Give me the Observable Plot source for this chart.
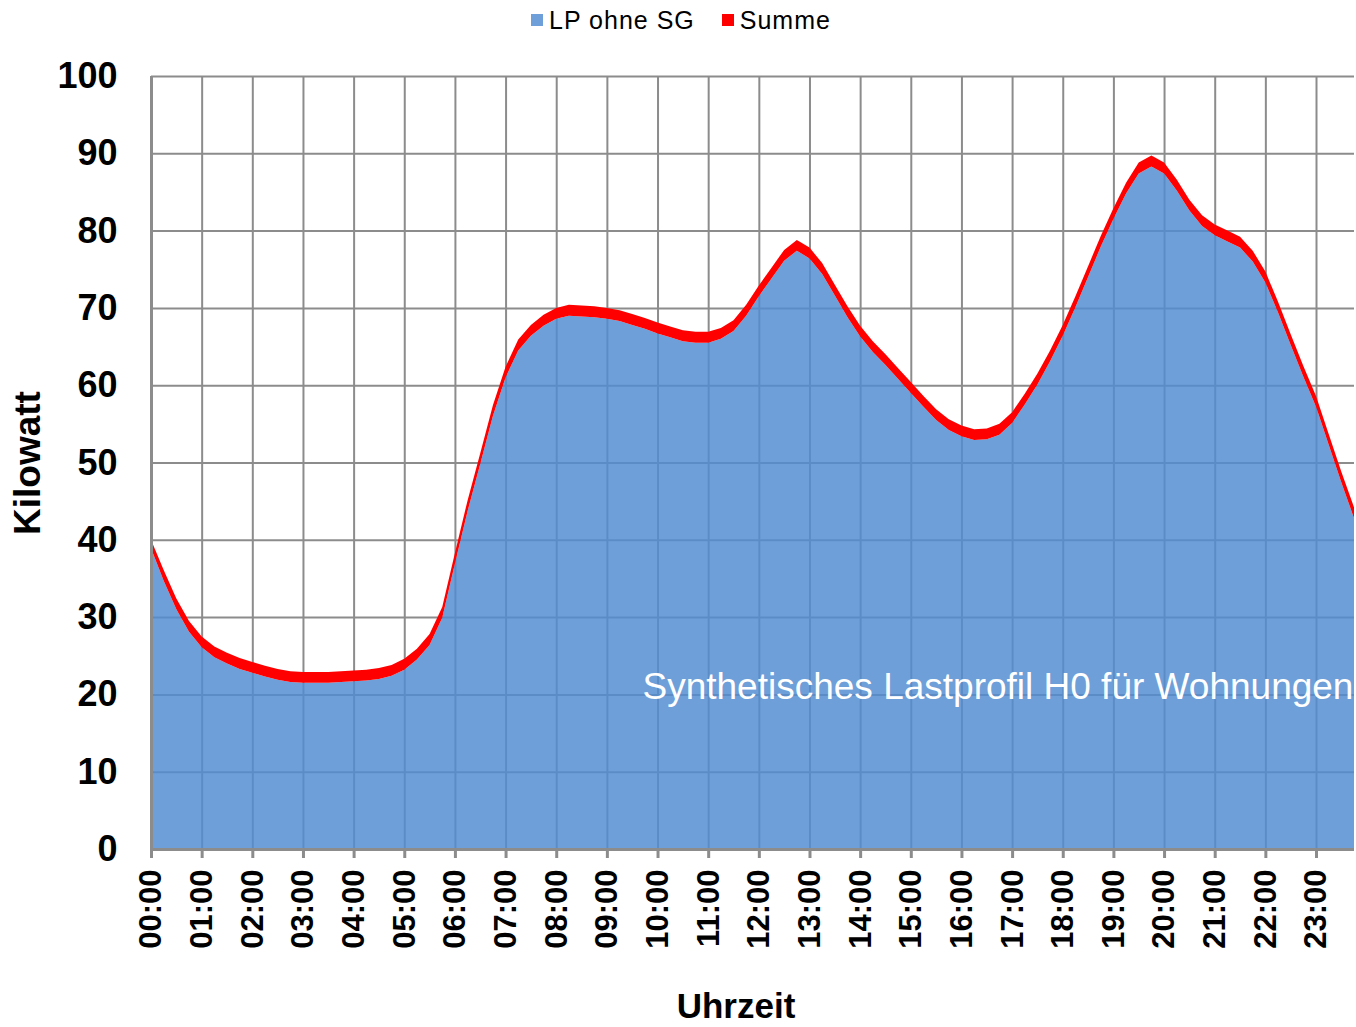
<!DOCTYPE html>
<html>
<head>
<meta charset="utf-8">
<script src="https://cdn.jsdelivr.net/npm/d3@7"></script>
<script src="https://cdn.jsdelivr.net/npm/@observablehq/plot@0.6"></script>
<style>
  html, body { margin: 0; padding: 0; background: #fff; }
  #wrap { position: relative; width: 1356px; height: 1027px; overflow: hidden; font-family: "Liberation Sans", Arial, sans-serif; }
  #legend { position: absolute; left: 531px; top: 0; height: 40px; display: flex; align-items: center; font-size: 25px; letter-spacing: 1px; color: #000; white-space: nowrap; }
  #legend .sw { display: inline-block; width: 12px; height: 12px; margin-right: 6px; }
  #legend .item { display: flex; align-items: center; margin-right: 27px; }
  #chart { position: absolute; left: 0; top: 40px; }
</style>
</head>
<body>
<div id="wrap">
  <div id="legend"></div>
  <div id="chart"></div>
</div>
<script>
// Series names
const seriesNames = ["LP ohne SG", "Summe"];
const seriesColors = ["rgb(110,159,217)", "#ff0000"];

// Hour tick labels
const tickLabels = ["00:00","01:00","02:00","03:00","04:00","05:00","06:00","07:00","08:00","09:00","10:00","11:00",
                    "12:00","13:00","14:00","15:00","16:00","17:00","18:00","19:00","20:00","21:00","22:00","23:00"];
const yTicks = [0, 10, 20, 30, 40, 50, 60, 70, 80, 90, 100];

// Quarter-hour values (kW), 00:00 ... 23:45
const lpOhneSG = [
  38.9, 34.7, 31.0, 28.1, 26.1, 24.8, 24.0, 23.3, 22.8, 22.3, 21.9, 21.6, 21.5, 21.5, 21.5, 21.6,
  21.7, 21.8, 22.0, 22.4, 23.2, 24.5, 26.4, 29.9, 36.9, 43.7, 49.8, 56.0, 61.0, 64.5, 66.4, 67.7,
  68.6, 69.0, 68.9, 68.8, 68.6, 68.3, 67.8, 67.3, 66.7, 66.2, 65.7, 65.5, 65.5, 66.0, 67.0, 69.0,
  71.5, 73.8, 76.1, 77.4, 76.4, 74.4, 71.6, 68.8, 66.3, 64.3, 62.6, 60.8, 59.0, 57.2, 55.5, 54.2,
  53.4, 52.9, 53.0, 53.6, 55.1, 57.5, 60.1, 63.1, 66.4, 70.1, 74.0, 77.9, 81.5, 84.8, 87.4, 88.3,
  87.4, 85.2, 82.6, 80.6, 79.4, 78.6, 77.8, 76.0, 73.3, 69.4, 65.2, 61.1, 57.2, 52.3, 47.4, 42.8
];
const summe = [
  40.0, 36.1, 32.4, 29.5, 27.5, 26.2, 25.4, 24.7, 24.2, 23.7, 23.3, 23.0, 22.9, 22.9, 22.9, 23.0,
  23.1, 23.2, 23.4, 23.8, 24.6, 25.9, 27.8, 31.3, 38.3, 45.1, 51.2, 57.4, 62.4, 65.9, 67.8, 69.1,
  70.0, 70.4, 70.3, 70.2, 70.0, 69.7, 69.2, 68.7, 68.1, 67.6, 67.1, 66.9, 66.9, 67.4, 68.4, 70.4,
  72.9, 75.2, 77.5, 78.8, 77.8, 75.8, 73.0, 70.2, 67.7, 65.7, 64.0, 62.2, 60.4, 58.6, 56.9, 55.6,
  54.8, 54.3, 54.4, 55.0, 56.5, 58.9, 61.5, 64.5, 67.8, 71.5, 75.4, 79.3, 82.9, 86.2, 88.8, 89.7,
  88.8, 86.6, 84.0, 82.0, 80.8, 80.0, 79.2, 77.4, 74.7, 70.8, 66.6, 62.5, 58.6, 53.7, 48.8, 44.2
];

const annotation = "Synthetisches Lastprofil H0 für Wohnungen";
const yLabel = "Kilowatt";
const xLabel = "Uhrzeit";

// Build table: x position in hours (quarter-hour steps)
const data = summe.map((s, i) => ({t: i / 4, lp: lpOhneSG[i], summe: s}));
const hourTicks = tickLabels.map((_, i) => i);

// Legend
const legend = document.getElementById("legend");
seriesNames.forEach((name, i) => {
  const item = document.createElement("div");
  item.className = "item";
  const sw = document.createElement("span");
  sw.className = "sw";
  sw.style.background = seriesColors[i];
  const tx = document.createElement("span");
  tx.textContent = name;
  item.appendChild(sw); item.appendChild(tx);
  legend.appendChild(item);
});

const grid = "#8c8c8c";
const font = "Liberation Sans, Arial, sans-serif";

const chart = Plot.plot({
  width: 1356,
  height: 987,
  marginLeft: 151,
  marginRight: 2,
  marginTop: 36,
  marginBottom: 178,
  style: {fontFamily: font, background: "white", overflow: "hidden"},
  x: {domain: [0, 23.75], axis: null},
  y: {domain: [0, 100], axis: null},
  marks: [
    Plot.gridY({ticks: yTicks, stroke: grid, strokeOpacity: 1, strokeWidth: 2}),
    Plot.gridX({ticks: hourTicks, stroke: grid, strokeOpacity: 1, strokeWidth: 2}),
    Plot.areaY(data, {x: "t", y1: 0, y2: "lp", fill: "rgb(82,141,210)", fillOpacity: 0.84}),
    Plot.areaY(data, {x: "t", y1: "lp", y2: "summe", fill: "#ff0000"}),
    Plot.ruleY([0], {stroke: grid, strokeWidth: 3}),
    Plot.ruleX([0], {stroke: grid, strokeWidth: 3}),
    Plot.axisY({ticks: yTicks, tickSize: 0, tickPadding: 34, fontSize: 36, fontWeight: "bold", fill: "black", fontFamily: font, label: null}),
    Plot.axisX({ticks: hourTicks, tickFormat: h => tickLabels[h], tickSize: 9, tickPadding: 11, tickRotate: -90,
                stroke: grid, strokeWidth: 3, fill: "black", fontSize: 31, fontWeight: "bold", fontFamily: font, label: null}),
    Plot.text([annotation], {frameAnchor: "bottom-left", dx: 491, dy: -162, text: d => d, textAnchor: "start", lineAnchor: "middle",
                fill: "white", fontSize: 37, fontFamily: font, clip: "frame"}),
    Plot.text([yLabel], {frameAnchor: "left", dx: -123, text: d => d, rotate: -90, lineAnchor: "middle", textAnchor: "middle",
                fill: "black", fontSize: 37, fontWeight: "bold", fontFamily: font}),
    Plot.text([xLabel], {frameAnchor: "bottom", dx: -17, dy: 157, text: d => d, lineAnchor: "middle", textAnchor: "middle",
                fill: "black", fontSize: 35, fontWeight: "bold", fontFamily: font})
  ]
});
document.getElementById("chart").appendChild(chart);
</script>
</body>
</html>
